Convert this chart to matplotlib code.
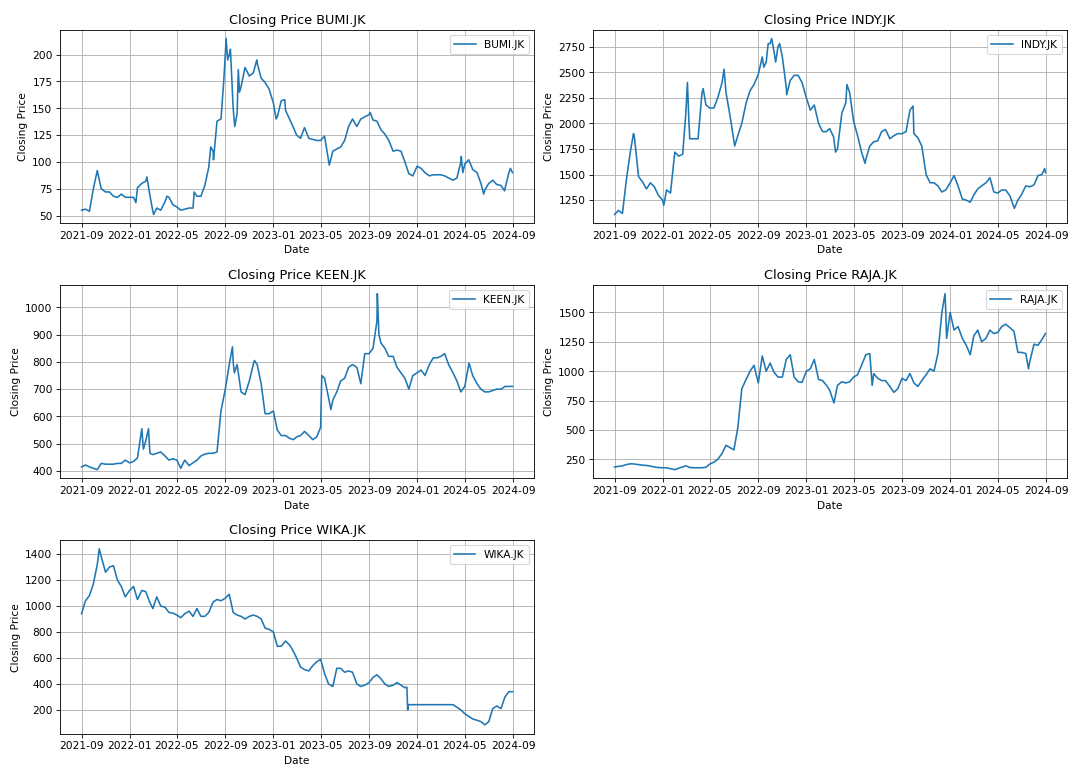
import matplotlib
matplotlib.use('Agg')
import matplotlib.pyplot as plt
import matplotlib.dates as mdates
from matplotlib.ticker import MaxNLocator
import pandas as pd

# Sampling dates: 1st, 11th, 21st of each month, Sep 2021 .. Aug 2024, plus last day
months = pd.date_range('2021-09-01', '2024-08-01', freq='MS')
sample_days = [1, 11, 21]
dates = [m + pd.Timedelta(days=d - 1) for m in months for d in sample_days] + [pd.Timestamp('2024-08-30')]

tickers = ['BUMI.JK', 'INDY.JK', 'KEEN.JK', 'RAJA.JK', 'WIKA.JK']

bumi = [55, 56, 54, 75, 92, 75, 72, 72, 68, 67, 70, 67,
        67, 67, 76, 80, 82, 70, 54, 57, 55, 63, 67, 60,
        58, 55, 56, 57, 57, 68, 68, 78, 95, 110, 138, 140,
        200, 200, 150, 145, 170, 188, 180, 183, 192, 178, 174, 168,
        155, 142, 157, 148, 140, 132, 125, 122, 132, 122, 121, 120,
        120, 124, 102, 110, 112, 114, 120, 133, 140, 133, 140, 142,
        144, 139, 138, 130, 126, 120, 110, 111, 110, 100, 89, 87,
        96, 94, 90, 87, 88, 88, 88, 87, 85, 83, 85, 100,
        98, 102, 93, 90, 80, 74, 80, 83, 79, 78, 75, 90,
        90]
bumi_extra = [('2022-01-17', 62), ('2022-02-14', 86), ('2022-03-03', 51), ('2022-04-06', 68),
              ('2022-06-14', 72), ('2022-07-26', 114), ('2022-08-02', 102), ('2022-08-28', 175),
              ('2022-09-03', 215), ('2022-09-07', 195), ('2022-09-14', 205), ('2022-09-25', 133),
              ('2022-10-04', 186), ('2022-10-07', 165), ('2022-11-20', 195), ('2023-01-08', 140),
              ('2023-01-30', 158), ('2023-05-23', 97), ('2023-09-04', 146), ('2024-04-22', 105),
              ('2024-04-26', 90), ('2024-06-18', 70), ('2024-08-10', 73), ('2024-08-25', 94)]

indy = [1110, 1150, 1120, 1450, 1720, 1880, 1480, 1430, 1360, 1420, 1380, 1300,
        1250, 1350, 1320, 1720, 1680, 1700, 2100, 1850, 1850, 1850, 2300, 2180,
        2150, 2150, 2250, 2400, 2300, 2080, 1830, 1880, 2000, 2200, 2320, 2380,
        2480, 2650, 2600, 2780, 2700, 2750, 2650, 2350, 2420, 2470, 2470, 2400,
        2250, 2130, 2180, 2000, 1920, 1920, 1950, 1870, 1750, 2100, 2200, 2300,
        2020, 1880, 1720, 1650, 1780, 1820, 1830, 1920, 1940, 1850, 1880, 1900,
        1900, 1920, 2130, 1900, 1860, 1780, 1500, 1420, 1420, 1390, 1330, 1350,
        1420, 1490, 1390, 1260, 1250, 1230, 1300, 1360, 1390, 1420, 1470, 1330,
        1320, 1350, 1350, 1290, 1180, 1250, 1310, 1390, 1380, 1400, 1490, 1500,
        1520]
indy_extra = [('2021-10-19', 1900), ('2022-01-04', 1200), ('2022-03-05', 2400), ('2022-03-09', 2000),
              ('2022-04-14', 2340), ('2022-06-06', 2530), ('2022-07-03', 1780), ('2022-09-15', 2550),
              ('2022-09-26', 2780), ('2022-10-05', 2830), ('2022-10-15', 2600), ('2022-10-25', 2780),
              ('2022-11-12', 2280), ('2023-03-16', 1720), ('2023-04-14', 2380), ('2023-05-30', 1610),
              ('2023-09-29', 2170), ('2024-06-12', 1170), ('2024-08-28', 1560)]

keen = [415, 422, 415, 410, 405, 428, 425, 425, 425, 428, 428, 440,
        430, 435, 448, 540, 510, 480, 460, 465, 470, 455, 440, 445,
        440, 410, 440, 420, 430, 440, 455, 462, 465, 465, 470, 620,
        700, 790, 800, 790, 690, 680, 730, 790, 790, 720, 610, 610,
        620, 550, 530, 530, 520, 515, 525, 530, 545, 530, 515, 525,
        560, 740, 670, 660, 690, 730, 740, 780, 790, 780, 720, 830,
        830, 850, 950, 870, 850, 820, 820, 780, 760, 740, 710, 750,
        760, 770, 750, 790, 815, 815, 820, 830, 790, 760, 730, 690,
        710, 790, 750, 720, 700, 690, 690, 695, 700, 700, 710, 710,
        710]
keen_extra = [('2022-02-01', 555), ('2022-02-05', 480), ('2022-02-18', 555), ('2022-02-22', 465),
              ('2022-09-19', 855), ('2022-09-24', 760), ('2022-11-14', 805), ('2023-05-04', 750),
              ('2023-05-27', 625), ('2023-09-22', 1050), ('2023-09-26', 900), ('2023-12-11', 700),
              ('2024-05-12', 795)]

raja = [185, 190, 195, 205, 212, 210, 205, 200, 198, 192, 185, 180,
        178, 178, 170, 162, 175, 185, 195, 180, 178, 178, 178, 182,
        210, 225, 250, 300, 370, 350, 330, 520, 850, 930, 1000, 1050,
        900, 1130, 1000, 1070, 990, 950, 950, 1100, 1140, 950, 910, 905,
        1000, 1020, 1100, 930, 920, 880, 840, 740, 880, 910, 900, 910,
        950, 970, 1050, 1140, 1150, 980, 940, 920, 920, 870, 820, 850,
        940, 920, 980, 900, 870, 920, 970, 1020, 1000, 1150, 1500, 1500,
        1500, 1350, 1380, 1280, 1220, 1140, 1300, 1350, 1250, 1280, 1350, 1320,
        1330, 1380, 1400, 1370, 1340, 1160, 1160, 1150, 1080, 1230, 1220, 1270,
        1320]
raja_extra = [('2023-03-12', 730), ('2023-06-17', 880), ('2023-12-19', 1660), ('2023-12-23', 1280),
              ('2024-07-18', 1020)]

wika = [940, 1040, 1080, 1170, 1320, 1380, 1260, 1300, 1310, 1200, 1150, 1070,
        1120, 1150, 1050, 1120, 1110, 1030, 980, 1070, 1000, 990, 950, 945,
        930, 910, 940, 960, 920, 980, 920, 920, 950, 1030, 1050, 1040,
        1060, 1090, 950, 930, 920, 900, 920, 930, 920, 900, 830, 820,
        800, 690, 690, 730, 700, 650, 600, 530, 510, 500, 540, 570,
        590, 480, 400, 380, 520, 520, 490, 500, 490, 400, 380, 390,
        410, 450, 470, 440, 400, 380, 390, 410, 390, 370, 240, 240,
        240, 240, 240, 240, 240, 240, 240, 240, 240, 240, 220, 200,
        170, 150, 130, 120, 110, 85, 110, 210, 230, 210, 300, 340,
        340]
wika_extra = [('2021-10-16', 1440), ('2023-12-06', 375), ('2023-12-08', 200), ('2023-12-09', 240)]

series = [bumi, indy, keen, raja, wika]
extras = [bumi_extra, indy_extra, keen_extra, raja_extra, wika_extra]


def build(vals, extra):
    s = pd.Series(vals, index=pd.DatetimeIndex(dates), dtype=float)
    e = pd.Series([v for _, v in extra], index=pd.to_datetime([d for d, _ in extra]), dtype=float)
    s = pd.concat([s, e])
    s = s[~s.index.duplicated(keep='last')].sort_index()
    return s


fig, axes = plt.subplots(3, 2, figsize=(14, 10), dpi=76.93)
fig.subplots_adjust(left=0.0557, right=0.9907, top=0.961, bottom=0.046,
                    wspace=0.1245, hspace=0.318)
flat = axes.flatten()
for ax, name, vals, extra in zip(flat, tickers, series, extras):
    s = build(vals, extra)
    ax.plot(s.index, s.values, label=name)
    ax.set_title(f'Closing Price {name}')
    ax.set_xlabel('Date')
    ax.set_ylabel('Closing Price')
    ax.legend(loc='upper right')
    ax.grid(True)
    ax.xaxis.set_major_locator(mdates.MonthLocator(bymonth=[1, 5, 9]))
    ax.xaxis.set_major_formatter(mdates.DateFormatter('%Y-%m'))
    ax.yaxis.set_major_locator(MaxNLocator(nbins=8, steps=[1, 2, 2.5, 5, 10]))
fig.delaxes(flat[5])
fig.savefig('out.png', dpi=76.93)
